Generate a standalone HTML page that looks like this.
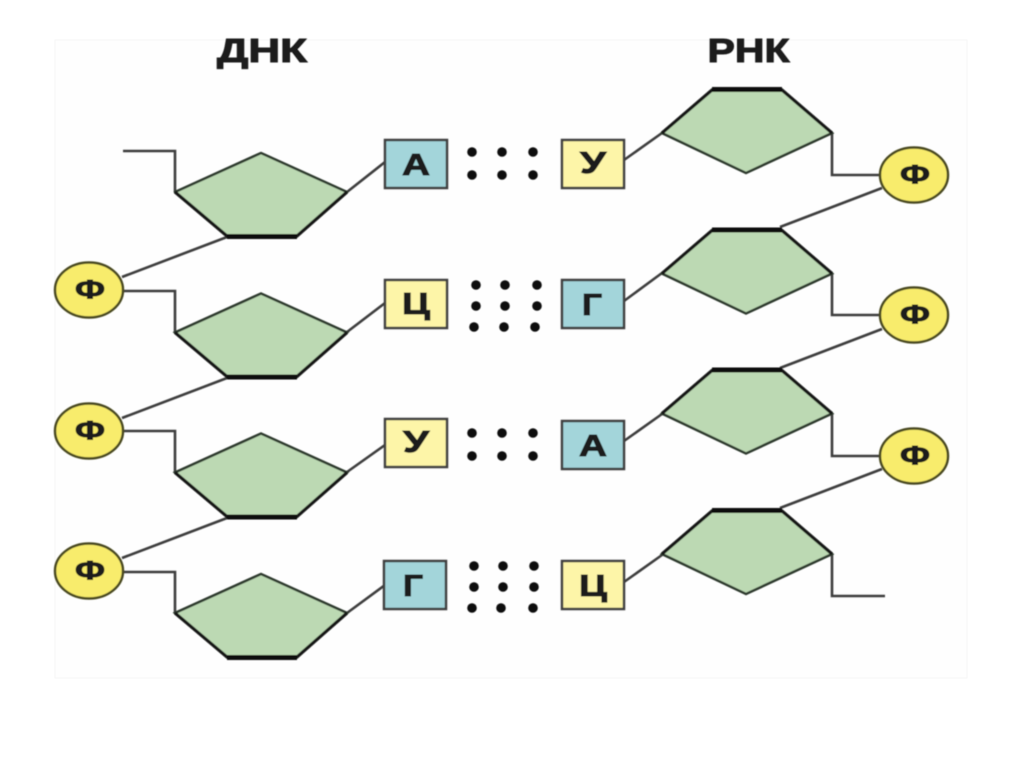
<!DOCTYPE html>
<html><head><meta charset="utf-8"><style>
html,body{margin:0;padding:0;background:#fff;width:1024px;height:767px;overflow:hidden}
svg{display:block}
text{font-family:"Liberation Sans","DejaVu Sans",sans-serif;font-weight:bold;fill:#1a1a1a;stroke:#1a1a1a;stroke-width:1;text-anchor:middle}
</style></head><body>
<svg width="1024" height="767" viewBox="0 0 1024 767" xmlns="http://www.w3.org/2000/svg">
<defs><filter id="b" x="-5%" y="-5%" width="110%" height="110%"><feGaussianBlur stdDeviation="0.55"/></filter></defs>
<rect x="55" y="40" width="912" height="638" fill="#fefefe" stroke="#f6f6f6"/>
<g filter="url(#b)">
<text x="262" y="62" font-size="33" textLength="90" lengthAdjust="spacingAndGlyphs">ДНК</text>
<text x="748.5" y="62" font-size="33" textLength="82" lengthAdjust="spacingAndGlyphs">РНК</text>

<g fill="none" stroke="#3c3c3c" stroke-width="2.6">
<path d="M123 151H175V192"/><path d="M122 277L227 237"/><path d="M347 192L385 162"/>
<path d="M123 291H175V332"/><path d="M122 418L227 378"/><path d="M347 332L385 303"/>
<path d="M123 431H175V472"/><path d="M122 558L227 518"/><path d="M347 472L385 445"/>
<path d="M123 572H175V613"/><path d="M347 613L385 585"/>
<path d="M624 160L662 133"/><path d="M832 133V175H880"/><path d="M780 227L882 188"/>
<path d="M624 301L662 273"/><path d="M832 273V315H880"/><path d="M780 368L882 329"/>
<path d="M624 441L662 414"/><path d="M832 414V456H880"/><path d="M780 508L882 469"/>
<path d="M624 582L662 555"/><path d="M832 555V596H885"/>
</g>

<!-- left sugars -->
<g><path d="M261 153L347 192L297 236H227L175 192Z" fill="#bcd9b3" stroke="#2e3a2e" stroke-width="2.6" stroke-linejoin="round"/><path d="M175 192L227 236H297L347 192" fill="none" stroke="#141814" stroke-width="3.2"/><path d="M227 236.500H297" stroke="#0c0c0c" stroke-width="5"/></g>
<g transform="translate(0,140.500)"><path d="M261 153L347 192L297 236H227L175 192Z" fill="#bcd9b3" stroke="#2e3a2e" stroke-width="2.6"/><path d="M175 192L227 236H297L347 192" fill="none" stroke="#141814" stroke-width="3.2"/><path d="M227 236.500H297" stroke="#0c0c0c" stroke-width="5"/></g>
<g transform="translate(0,280.500)"><path d="M261 153L347 192L297 236H227L175 192Z" fill="#bcd9b3" stroke="#2e3a2e" stroke-width="2.6"/><path d="M175 192L227 236H297L347 192" fill="none" stroke="#141814" stroke-width="3.2"/><path d="M227 236.500H297" stroke="#0c0c0c" stroke-width="5"/></g>
<g transform="translate(0,421)"><path d="M261 153L347 192L297 236H227L175 192Z" fill="#bcd9b3" stroke="#2e3a2e" stroke-width="2.6"/><path d="M175 192L227 236H297L347 192" fill="none" stroke="#141814" stroke-width="3.2"/><path d="M227 236.500H297" stroke="#0c0c0c" stroke-width="5"/></g>

<!-- right sugars -->
<g><path d="M662 133L712 90H782L832 133L746 173Z" fill="#bcd9b3" stroke="#2e3a2e" stroke-width="2.6"/><path d="M662 133L712 90H782L832 133" fill="none" stroke="#141814" stroke-width="3.2"/><path d="M712 89.500H782" stroke="#0c0c0c" stroke-width="5"/></g>
<g transform="translate(0,140.500)"><path d="M662 133L712 90H782L832 133L746 173Z" fill="#bcd9b3" stroke="#2e3a2e" stroke-width="2.6"/><path d="M662 133L712 90H782L832 133" fill="none" stroke="#141814" stroke-width="3.2"/><path d="M712 89.500H782" stroke="#0c0c0c" stroke-width="5"/></g>
<g transform="translate(0,280.500)"><path d="M662 133L712 90H782L832 133L746 173Z" fill="#bcd9b3" stroke="#2e3a2e" stroke-width="2.6"/><path d="M662 133L712 90H782L832 133" fill="none" stroke="#141814" stroke-width="3.2"/><path d="M712 89.500H782" stroke="#0c0c0c" stroke-width="5"/></g>
<g transform="translate(0,421)"><path d="M662 133L712 90H782L832 133L746 173Z" fill="#bcd9b3" stroke="#2e3a2e" stroke-width="2.6"/><path d="M662 133L712 90H782L832 133" fill="none" stroke="#141814" stroke-width="3.2"/><path d="M712 89.500H782" stroke="#0c0c0c" stroke-width="5"/></g>

<!-- boxes -->
<g stroke-width="2.500" stroke="#3f3f3f">
<rect x="385" y="140" width="62" height="48" fill="#a3d5da"/>
<rect x="385" y="280" width="62" height="48" fill="#fdf5a8"/>
<rect x="385" y="419" width="62" height="48" fill="#fdf5a8"/>
<rect x="384" y="561" width="62" height="48" fill="#a3d5da"/>
<rect x="562" y="140" width="62" height="48" fill="#fdf5a8"/>
<rect x="562" y="280" width="62" height="48" fill="#a3d5da"/>
<rect x="562" y="421" width="62" height="48" fill="#a3d5da"/>
<rect x="562" y="561" width="62" height="48" fill="#fdf5a8"/>
</g>
<text x="416" y="175" font-size="31" textLength="28" lengthAdjust="spacingAndGlyphs">А</text>
<text x="416" y="314" font-size="31" textLength="28" lengthAdjust="spacingAndGlyphs">Ц</text>
<text x="416" y="452" font-size="31" textLength="26" lengthAdjust="spacingAndGlyphs">У</text>
<text x="413" y="596" font-size="31" textLength="20" lengthAdjust="spacingAndGlyphs">Г</text>
<text x="593" y="173" font-size="31" textLength="26" lengthAdjust="spacingAndGlyphs">У</text>
<text x="592" y="315" font-size="31" textLength="20" lengthAdjust="spacingAndGlyphs">Г</text>
<text x="593" y="456" font-size="31" textLength="28" lengthAdjust="spacingAndGlyphs">А</text>
<text x="593" y="596" font-size="31" textLength="28" lengthAdjust="spacingAndGlyphs">Ц</text>

<!-- dots -->
<g fill="#111">
<circle cx="472" cy="152" r="4.800"/><circle cx="502" cy="152" r="4.800"/><circle cx="533" cy="152" r="4.800"/>
<circle cx="472" cy="175" r="4.800"/><circle cx="502" cy="175" r="4.800"/><circle cx="533" cy="175" r="4.800"/>
<circle cx="476" cy="285" r="4.800"/><circle cx="505" cy="285" r="4.800"/><circle cx="537" cy="285" r="4.800"/>
<circle cx="476" cy="306" r="4.800"/><circle cx="505" cy="306" r="4.800"/><circle cx="537" cy="306" r="4.800"/>
<circle cx="474" cy="327" r="4.800"/><circle cx="504" cy="327" r="4.800"/><circle cx="535" cy="327" r="4.800"/>
<circle cx="472" cy="433" r="4.800"/><circle cx="502" cy="433" r="4.800"/><circle cx="533" cy="433" r="4.800"/>
<circle cx="472" cy="456" r="4.800"/><circle cx="502" cy="456" r="4.800"/><circle cx="533" cy="456" r="4.800"/>
<circle cx="474" cy="566" r="4.800"/><circle cx="503" cy="566" r="4.800"/><circle cx="534" cy="566" r="4.800"/>
<circle cx="474" cy="587" r="4.800"/><circle cx="503" cy="587" r="4.800"/><circle cx="534" cy="587" r="4.800"/>
<circle cx="472" cy="608" r="4.800"/><circle cx="501" cy="608" r="4.800"/><circle cx="533" cy="608" r="4.800"/>
</g>

<!-- phosphates -->
<g fill="#f8ec6c" stroke="#4a4a20" stroke-width="2.500">
<ellipse cx="89" cy="290" rx="34" ry="27.500"/>
<ellipse cx="89" cy="431" rx="34" ry="27.500"/>
<ellipse cx="89" cy="571" rx="34" ry="27.500"/>
<ellipse cx="914" cy="175" rx="34" ry="27.500"/>
<ellipse cx="914" cy="315" rx="34" ry="27.500"/>
<ellipse cx="914" cy="456" rx="34" ry="27.500"/>
</g>
<text x="90" y="298.500" font-size="27" textLength="30" lengthAdjust="spacingAndGlyphs">Ф</text>
<text x="90" y="439.500" font-size="27" textLength="30" lengthAdjust="spacingAndGlyphs">Ф</text>
<text x="90" y="579.500" font-size="27" textLength="30" lengthAdjust="spacingAndGlyphs">Ф</text>
<text x="915" y="183.500" font-size="27" textLength="30" lengthAdjust="spacingAndGlyphs">Ф</text>
<text x="915" y="323.500" font-size="27" textLength="30" lengthAdjust="spacingAndGlyphs">Ф</text>
<text x="915" y="464.500" font-size="27" textLength="30" lengthAdjust="spacingAndGlyphs">Ф</text>
</g>
</svg>
</body></html>
